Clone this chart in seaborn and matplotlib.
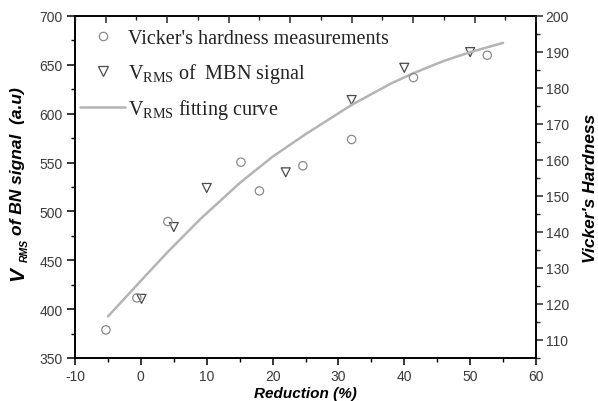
import numpy as np
import pandas as pd
import matplotlib
matplotlib.use("Agg")
import matplotlib.pyplot as plt
import seaborn as sns
from matplotlib.ticker import MultipleLocator
from matplotlib.lines import Line2D

# ---- data ----
hv_reduction = [-5.3, -0.6, 4.1, 15.2, 18.0, 24.6, 32.0, 41.4, 52.6]
hv_hardness = [112.8, 121.7, 142.9, 159.4, 151.4, 158.4, 165.7, 182.9, 189.1]

mbn_reduction = [0.1, 5.0, 10.0, 22.0, 32.0, 40.0, 50.0]
mbn_vrms = [410.5, 484, 524, 540, 614, 647, 663]

fit_reduction = [-5, 0, 4, 9, 15, 20, 25, 32, 38, 41.4, 46, 50, 55]
fit_vrms = [392.5, 429, 458, 492, 529, 556, 579, 609, 631, 641.5, 654, 663, 672.5]

xticks = [-10, 0, 10, 20, 30, 40, 50, 60]
left_ticks = [350, 400, 450, 500, 550, 600, 650, 700]
right_ticks = [110, 120, 130, 140, 150, 160, 170, 180, 190, 200]

sns.set_style("white")
plt.rcParams['font.family'] = ['Liberation Sans', 'DejaVu Sans']
plt.rcParams['axes.unicode_minus'] = False
plt.rcParams['mathtext.fontset'] = 'custom'
plt.rcParams['mathtext.rm'] = 'Liberation Serif'
plt.rcParams['mathtext.it'] = 'Liberation Sans:italic:bold'
plt.rcParams['mathtext.bf'] = 'Liberation Sans:bold'

W, H = 598, 402
fig = plt.figure(figsize=(W/100, H/100), dpi=100)
ax = fig.add_axes([75/W, 1-359/H, (536-75)/W, (359-17)/H])
ax2 = ax.twinx()

fit_df = pd.DataFrame({"x": fit_reduction, "y": fit_vrms})
mbn_df = pd.DataFrame({"x": mbn_reduction, "y": mbn_vrms})
hv_df = pd.DataFrame({"x": hv_reduction, "y": hv_hardness})

line_col = "#b4b4b4"
circ_col = "#8a8a8a"
tri_col = "#4a4a4a"

sns.lineplot(data=fit_df, x="x", y="y", ax=ax, color=line_col, lw=1.8, sort=False, legend=False)
sns.scatterplot(data=mbn_df, x="x", y="y", ax=ax, marker="v", s=42,
                facecolor="none", edgecolor=tri_col, linewidth=0.9, legend=False)
sns.scatterplot(data=hv_df, x="x", y="y", ax=ax2, marker="o", s=36,
                facecolor="none", edgecolor=circ_col, linewidth=0.9, legend=False)

ax.set_xlim(-10, 60)
ax.set_ylim(350, 700)
ax2.set_ylim(105, 200)

ax.set_xticks(xticks)
ax.set_yticks(left_ticks)
ax2.set_yticks(right_ticks)
ax.xaxis.set_minor_locator(MultipleLocator(5))
ax.yaxis.set_minor_locator(MultipleLocator(25))
ax2.yaxis.set_minor_locator(MultipleLocator(5))

tick_col = "#3a3a3a"
for a in (ax, ax2):
    for s in a.spines.values():
        s.set_color("black")
        s.set_linewidth(1.2)
ax.tick_params(axis="both", which="major", direction="out", length=5, width=1.1,
               labelsize=10, labelcolor=tick_col, color="black", pad=3)
ax.tick_params(axis="y", which="major", length=6)
ax.tick_params(axis="both", which="minor", direction="out", length=3, width=1.0, color="black")
ax.tick_params(axis="x", top=False, which="both")
ax2.tick_params(axis="y", which="major", direction="out", length=5, width=1.1,
                labelsize=10, labelcolor=tick_col, pad=2)
ax2.tick_params(axis="y", which="minor", direction="out", length=3, width=1.0)

# top inward ticks (independent spacing)
ax3 = ax.twiny()
ax3.set_xlim(0, 15)
ax3.xaxis.set_major_locator(MultipleLocator(2, offset=1))
ax3.xaxis.set_minor_locator(MultipleLocator(1))
ax3.tick_params(axis="x", which="major", direction="in", length=5, width=1.1, labeltop=False)
ax3.tick_params(axis="x", which="minor", direction="in", length=3, width=1.0)
for s in ax3.spines.values():
    s.set_visible(False)

lab_kw = dict(fontweight="bold", style="italic", color="black")
ax.set_xlabel("Reduction (%)", fontsize=11, labelpad=2, **lab_kw)
ax.set_ylabel("")
ax2.set_ylabel("Vicker's Hardness", fontsize=12.5, labelpad=10, **lab_kw)

# left axis label built from pieces (large V, subscript RMS)
def fx(px):
    return px / W
def fy(py):
    return 1 - py / H
fig.text(fx(18), fy(281), "V", rotation=90, ha="center", va="bottom", fontsize=15, **lab_kw)
fig.text(fx(24.5), fy(262), "RMS", rotation=90, ha="center", va="bottom", fontsize=7.5, **lab_kw)
fig.text(fx(18), fy(235), "of BN signal  (a.u)", rotation=90, ha="center", va="bottom",
         fontsize=12.5, **lab_kw)

handles = [
    Line2D([], [], ls="none", marker="o", ms=6, mfc="none", mec=circ_col, mew=0.9),
    Line2D([], [], ls="none", marker="v", ms=6.5, mfc="none", mec=tri_col, mew=0.9),
    Line2D([], [], color=line_col, lw=1.8),
]
labels = ["Vicker's hardness measurements",
          r"V$_{\rm RMS}$ of  MBN signal",
          r"V$_{\rm RMS}$ fitting curve"]
leg = ax.legend(handles, labels, loc="upper left", bbox_to_anchor=(5/461, 1 - 13/342),
                frameon=False, prop={"family": "Liberation Serif", "size": 14.5},
                handlelength=2.25, handletextpad=0.15, labelspacing=0.62,
                borderaxespad=0, borderpad=0)
for t in leg.get_texts():
    t.set_color("#222222")

fig.savefig("out.png", dpi=100)
